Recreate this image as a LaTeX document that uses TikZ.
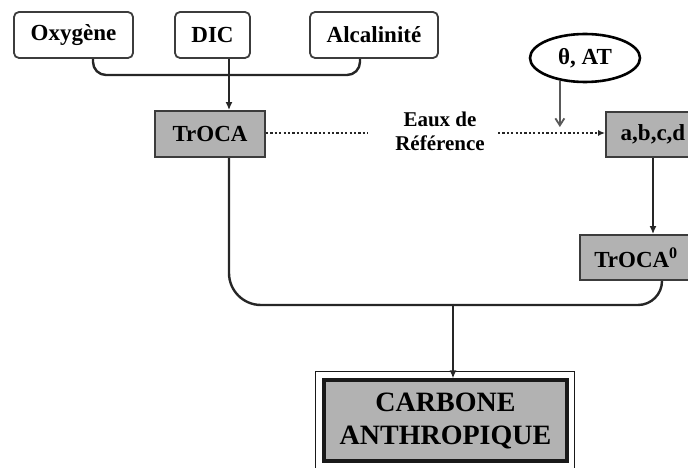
\documentclass[tikz,border=0pt]{standalone}
\usepackage{fontspec}
\setmainfont{Liberation Serif}
\usetikzlibrary{arrows.meta,shapes.geometric}
\definecolor{boxgray}{RGB}{178,178,178}
\definecolor{edge}{RGB}{60,60,60}
\tikzset{
  whitebox/.style={draw=edge, line width=1.8pt, rounded corners=5pt, fill=white, inner sep=0pt,
    minimum height=46pt, font=\fontsize{23}{26}\selectfont\bfseries},
  graybox/.style={draw=edge, line width=1.8pt, fill=boxgray, inner sep=0pt,
    minimum height=45pt, font=\fontsize{23}{26}\selectfont\bfseries},
  conn/.style={line width=2.4pt, draw=black!85},
  arr/.style={conn, -{Latex[length=8pt,width=7pt]}},
  dotline/.style={line width=2.6pt, draw=black!85, dash pattern=on 2.2pt off 2.2pt},
}
\begin{document}
\begin{tikzpicture}[x=1pt,y=-1pt]
\useasboundingbox (0,0) rectangle (688,468);
\clip (0,0) rectangle (688,468);
% top boxes
\node[whitebox, minimum width=119pt] (oxy) at (73.5,35) {Oxygène};
\node[whitebox, minimum width=75pt] (dic) at (212.5,35) {DIC};
\node[whitebox, minimum width=128pt] (alc) at (374,35) {Alcalinité};
% gray boxes
\node[graybox, minimum width=110pt, minimum height=46pt] (troca) at (210,134) {TrOCA};
\node[graybox, minimum width=94pt] (abcd) at (653,134.5) {a,b,c,d};
\node[graybox, minimum width=112pt] (tr0) at (636,257.5) {TrOCA\textsuperscript{0}};
% ellipse
\node[ellipse, draw=black, line width=2.6pt, minimum width=110pt, minimum height=48pt, inner sep=0pt,
  font=\fontsize{23}{26}\selectfont\bfseries] (theta) at (585,58) {θ, AT};
% text
\node[align=center, font=\fontsize{21}{24}\selectfont\bfseries] (eaux) at (440,131) {Eaux de\\Référence};
% carbone box
\node[draw=black!90, line width=3.2pt, fill=boxgray, minimum width=243pt, minimum height=81pt, inner sep=0pt,
  align=center, font=\fontsize{28}{33}\selectfont\bfseries] (carb) at (445.5,420.5) {CARBONE\\ANTHROPIQUE};
\draw[black!90, line width=1.6pt] ([shift={(-7pt,7pt)}]carb.north west) rectangle ([shift={(6pt,-6pt)}]carb.south east);
% coordinates
\coordinate (j) at (229,75);
\coordinate (k) at (453,305);
\coordinate (d1) at (368,133);
\coordinate (d2) at (498,133);
\coordinate (t) at (558,127);
% connectors
\draw[conn, rounded corners=13pt] ([xshift=19.5pt]oxy.south) |- (j) -| ([xshift=-14pt]alc.south);
\draw[arr] (dic.south -| j) -- (troca.north -| j);
\draw[dotline] (troca.east |- d1) -- (d1);
\draw[dotline, -{Latex[length=7pt,width=6pt]}] (d2) -- (abcd.west |- d2);
\draw[line width=1.8pt, draw=black!65, -{Straight Barb[length=7pt,width=9pt]}] (theta.222) -- (theta.222 |- t);
\draw[arr] (abcd.south) -- (abcd.south |- tr0.north);
\draw[conn, rounded corners=32pt] (troca.south -| j) |- (k);
\draw[conn, rounded corners=24pt] (k) -| ([xshift=26pt]tr0.south);
\draw[arr] (k) -- (k |- carb.north);
\end{tikzpicture}
\end{document}
